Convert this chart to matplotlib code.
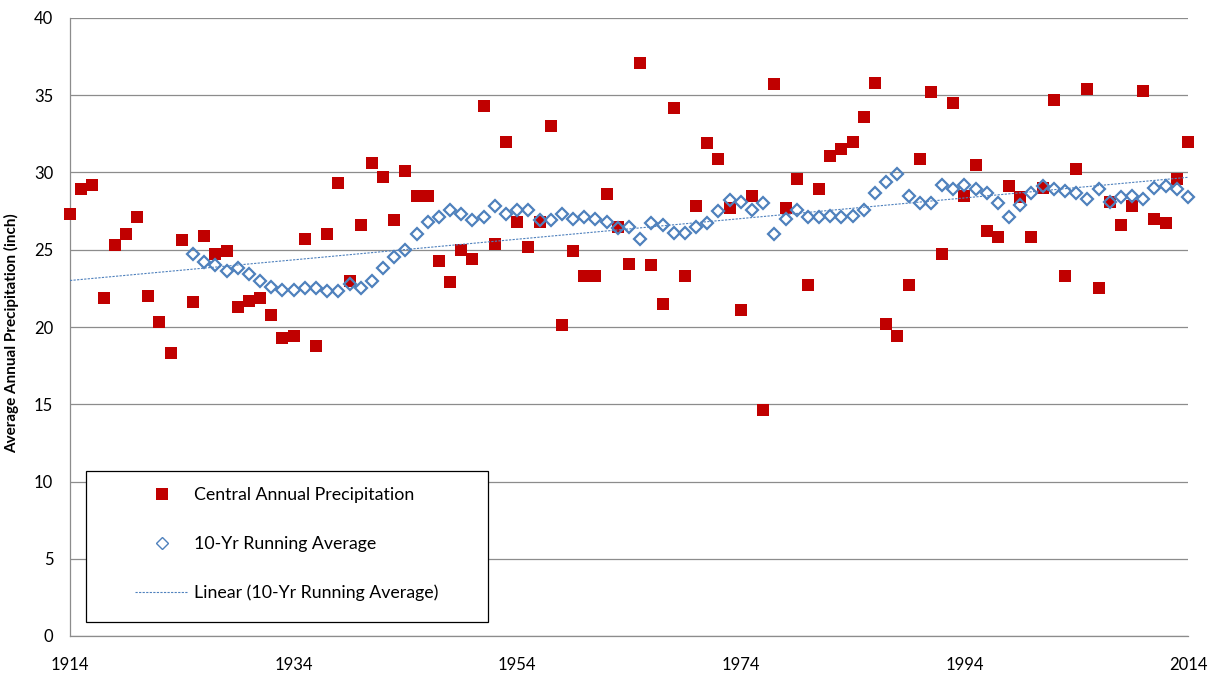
import numpy as np
import matplotlib
matplotlib.use("Agg")
import matplotlib.pyplot as plt
from matplotlib.patches import Rectangle
from matplotlib.lines import Line2D

plt.rcParams['font.family'] = ['Lato', 'DejaVu Sans']

years = list(range(1914, 2015))
precip = [
    27.3, 28.9, 29.2, 21.9, 25.3, 26.0, 27.1, 22.0, 20.3, 18.3,   # 1914-1923
    25.6, 21.6, 25.9, 24.7, 24.9, 21.3, 21.7, 21.9, 20.8, 19.3,   # 1924-1933
    19.4, 25.7, 18.8, 26.0, 29.3, 23.0, 26.6, 30.6, 29.7, 26.9,   # 1934-1943
    30.1, 28.5, 28.5, 24.3, 22.9, 25.0, 24.4, 34.3, 25.4, 32.0,   # 1944-1953
    26.8, 25.2, 26.8, 33.0, 20.1, 24.9, 23.3, 23.3, 28.6, 26.5,   # 1954-1963
    24.1, 37.1, 24.0, 21.5, 34.2, 23.3, 27.8, 31.9, 30.9, 27.7,   # 1964-1973
    21.1, 28.5, 14.6, 35.7, 27.7, 29.6, 22.7, 28.9, 31.1, 31.5,   # 1974-1983
    32.0, 33.6, 35.8, 20.2, 19.4, 22.7, 30.9, 35.2, 24.7, 34.5,   # 1984-1993
    28.5, 30.5, 26.2, 25.8, 29.1, 28.4, 25.8, 29.0, 34.7, 23.3,   # 1994-2003
    30.2, 35.4, 22.5, 28.1, 26.6, 27.8, 35.3, 27.0, 26.7, 29.6,   # 2004-2013
    32.0,                                                          # 2014
]

avg_years = list(range(1925, 2015))
running_avg = [
    24.7, 24.2, 24.0, 23.6, 23.8, 23.4, 23.0, 22.6, 22.4, 22.4,   # 1925-1934
    22.5, 22.5, 22.3, 22.3, 22.8, 22.5, 23.0, 23.8, 24.5, 25.0,   # 1935-1944
    26.0, 26.8, 27.1, 27.6, 27.3, 26.9, 27.1, 27.8, 27.3, 27.6,   # 1945-1954
    27.6, 26.9, 26.9, 27.3, 27.0, 27.1, 27.0, 26.8, 26.4, 26.5,   # 1955-1964
    25.7, 26.7, 26.6, 26.1, 26.1, 26.5, 26.7, 27.5, 28.2, 28.1,   # 1965-1974
    27.6, 28.0, 26.0, 27.0, 27.6, 27.1, 27.1, 27.2, 27.1, 27.2,   # 1975-1984
    27.6, 28.7, 29.4, 29.9, 28.5, 28.0, 28.0, 29.2, 28.9, 29.2,   # 1985-1994
    28.9, 28.7, 28.0, 27.1, 27.9, 28.7, 29.1, 28.9, 28.8, 28.7,   # 1995-2004
    28.3, 28.9, 28.1, 28.4, 28.5, 28.3, 29.0, 29.1, 28.9, 28.4,   # 2005-2014
]

x_ticks = [1914, 1934, 1954, 1974, 1994, 2014]
y_ticks = [0, 5, 10, 15, 20, 25, 30, 35, 40]

RED = '#C00000'
BLUE = '#4F81BD'
GRID = '#8C8C8C'

W, H = 1220, 675
fig = plt.figure(figsize=(W / 100, H / 100), dpi=100)
ax = fig.add_axes([70 / W, 1 - 636 / H, (1188 - 70) / W, (636 - 18) / H])

ax.set_xlim(1914, 2014)
ax.set_ylim(0, 40)
ax.set_xticks(x_ticks)
ax.set_yticks(y_ticks)
ax.grid(axis='y', color=GRID, linewidth=0.9)
ax.set_axisbelow(True)
for s in ['top', 'right']:
    ax.spines[s].set_visible(False)
for s in ['left', 'bottom']:
    ax.spines[s].set_color(GRID)
    ax.spines[s].set_linewidth(0.9)
ax.tick_params(axis='both', length=0, labelsize=12, colors='black')
ax.tick_params(axis='y', pad=12)
ax.tick_params(axis='x', pad=15)

ax.plot(years, precip, linestyle='none', marker='s', markersize=9.2,
        color=RED, markeredgewidth=0, zorder=3, clip_on=False)
ax.plot(avg_years, running_avg, linestyle='none', marker='D', markersize=6.2,
        markerfacecolor='none', markeredgecolor=BLUE, markeredgewidth=1.6,
        zorder=4, clip_on=False)

coef = np.polyfit(avg_years, running_avg, 1)
tx = np.array([1914, 2014])
ax.plot(tx, np.polyval(coef, tx), color=BLUE, linewidth=0.8,
        linestyle=(0, (2, 1.2)), zorder=5)

ax.set_ylabel('Average Annual Precipitation (inch)', fontsize=11,
              fontweight='bold')
ax.yaxis.set_label_coords(-(70 - 19) / 1118, (636 - 333) / 618)

# legend frame
x0 = (86 - 70) / 1118
y0 = (636 - 622) / 618
w = (488 - 86) / 1118
h = (622 - 471) / 618
ax.add_patch(Rectangle((x0, y0), w, h, transform=ax.transAxes,
                       facecolor='white', edgecolor='black', linewidth=0.9,
                       zorder=6, clip_on=False))

handles = [
    Line2D([], [], linestyle='none', marker='s', markersize=9.2, color=RED,
           markeredgewidth=0),
    Line2D([], [], linestyle='none', marker='D', markersize=6.2,
           markerfacecolor='none', markeredgecolor=BLUE, markeredgewidth=1.0),
    Line2D([], [], color=BLUE, linewidth=0.8, linestyle=(0, (2, 1.2))),
]
labels = ['Central Annual Precipitation', '10-Yr Running Average',
          'Linear (10-Yr Running Average)']
leg = ax.legend(handles, labels, loc='upper left',
                bbox_to_anchor=((135 - 70) / 1118, (636 - 487) / 618),
                frameon=False, fontsize=12.75, borderpad=0, borderaxespad=0,
                handlelength=3.0, handletextpad=0.34, labelspacing=1.86)
leg.set_zorder(7)

fig.savefig('out.png', dpi=100)
